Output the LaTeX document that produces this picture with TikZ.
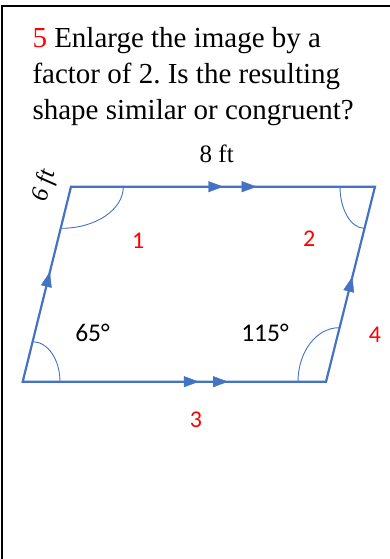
\documentclass[tikz,border=0pt]{standalone}
\usepackage{fontspec}
\setmainfont{Liberation Serif}
\newfontfamily\calfont{Carlito}
\usetikzlibrary{arrows.meta, positioning, decorations.markings}
\definecolor{shapeblue}{HTML}{4472C4}
\definecolor{numred}{HTML}{FF0000}
\frenchspacing
\tikzset{
  tip/.tip={Triangle[length=15pt, width=11pt]},
  side/.style={line width=2.2pt, draw=shapeblue, line join=miter},
  anglearc/.style={line width=0.9pt, draw=shapeblue},
  frame/.style={line width=2pt, draw=black},
  onetip/.style={color=shapeblue, postaction={decorate},
    decoration={markings, mark=at position #1 with {\arrow{tip}}}},
  twotips/.style 2 args={color=shapeblue, postaction={decorate},
    decoration={markings, mark=at position #1 with {\arrow{tip}},
                          mark=at position #2 with {\arrow{tip}}}},
  qtext/.style={inner sep=0pt, align=left, font=\fontsize{29}{36.2}\selectfont},
  dimlbl/.style={inner sep=0pt, font=\fontsize{25}{30}\selectfont},
  anglbl/.style={inner sep=0pt, font=\calfont\fontsize{25.5}{30}\selectfont},
  numlbl/.style={inner sep=0pt, text=numred, font=\calfont\fontsize{24}{30}\selectfont},
}

\begin{document}
\begin{tikzpicture}[x=1pt, y=-1pt]
    \useasboundingbox (0,0) rectangle (390,559);
    % frame, cut at the right and bottom
    \draw[frame] (2,575) -- (2,6) -- (405,6);

    % question (anchored on its last line)
    \node[qtext, anchor=base west] (question) at (32.3,120)
      {\textcolor{numred}{5} Enlarge the image by a\\factor of 2. Is the resulting\\shape similar or congruent?};

    % parallelogram
    \coordinate (tl) at (71,186.7);
    \coordinate (tr) at (375,186.7);
    \coordinate (br) at (326,381.7);
    \coordinate (bl) at (22.7,381.7);
    \draw[side] (tl) -- (tr) -- (br) -- (bl) -- cycle;
    \path[twotips={0.501}{0.611}] (tl) -- (tr);
    \path[twotips={0.581}{0.677}] (bl) -- (br);
    \path[onetip=0.563] (bl) -- (tl);
    \path[onetip=0.538] (br) -- (tr);

    % angle marks
    \draw[anglearc] (123.3,186.7) arc[start angle=0, end angle=90, x radius=61.8, y radius=41.6];
    \draw[anglearc] (340,186.7) arc[start angle=180, end angle=90, x radius=24.5, y radius=41.6];
    \draw[anglearc] (32.7,341.7) arc[start angle=270, end angle=360, x radius=27.3, y radius=40];
    \draw[anglearc] (298,381.7) arc[start angle=180, end angle=270, x radius=41, y radius=54];

    % labels
    \node[dimlbl] (len8) at (216.7,154) {8 ft};
    \node[dimlbl, rotate=76, font=\itshape\fontsize{24.5}{28}\selectfont] (len6) at (45,186) {6 ft};
    \node[anglbl] (ang65) at (92.5,333.3) {65°};
    \node[anglbl] (ang115) at (265,333.3) {115°};
    \node[numlbl] (num1) at (138.3,241) {1};
    \node[numlbl] (num2) at (309.3,238.3) {2};
    \node[numlbl] (num3) at (196,419.3) {3};
    \node[numlbl] (num4) at (375,334.5) {4};
\end{tikzpicture}
\end{document}
